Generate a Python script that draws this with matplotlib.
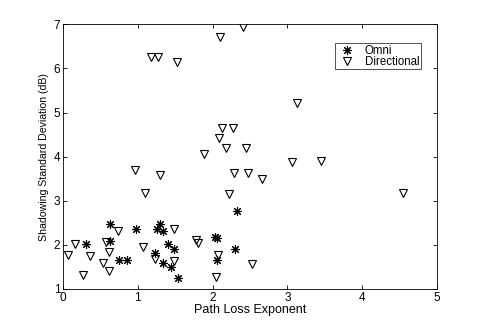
import matplotlib
matplotlib.use("Agg")
import matplotlib.pyplot as plt

plt.rcParams['font.family'] = ['Liberation Sans', 'DejaVu Sans']

omni_x = [0.31, 0.63, 0.63, 0.75, 0.85, 0.98, 1.25, 1.29, 1.33, 1.23, 1.40, 1.49,
          1.34, 1.44, 1.54, 2.03, 2.06, 2.06, 2.32, 2.30]
omni_y = [2.01, 2.47, 2.09, 1.66, 1.66, 2.35, 2.35, 2.47, 2.31, 1.82, 2.01, 1.90,
          1.59, 1.50, 1.24, 2.17, 2.15, 1.65, 2.77, 1.90]

dir_x = [0.96, 1.30, 1.09, 2.28, 2.47, 2.22, 0.73, 1.48, 0.16, 0.06, 0.36, 0.58,
         0.62, 0.54, 0.62, 0.27, 1.07, 1.23, 1.49, 1.78, 1.81, 2.07, 2.05, 2.53,
         2.40, 2.10, 1.17, 1.27, 1.53, 2.12, 2.27, 2.08, 2.18, 2.44, 1.89, 3.13,
         3.06, 3.45, 4.55, 2.66]
dir_y = [3.70, 3.58, 3.18, 3.64, 3.64, 3.15, 2.32, 2.35, 2.01, 1.78, 1.75, 2.06,
         1.84, 1.58, 1.41, 1.31, 1.94, 1.69, 1.64, 2.10, 2.04, 1.78, 1.26, 1.56,
         6.95, 6.72, 6.27, 6.27, 6.15, 4.64, 4.64, 4.42, 4.19, 4.19, 4.06, 5.21,
         3.88, 3.91, 3.18, 3.49]

fig = plt.figure(figsize=(4.85, 3.25), dpi=100)
ax = fig.add_axes([0.130, 0.111, 0.771, 0.814])

ax.plot(omni_x, omni_y, linestyle='none', marker=(8, 2, 0), markersize=6.5,
        color='black', markeredgewidth=0.8, label='Omni')
ax.plot(dir_x, dir_y, linestyle='none', marker='v', markersize=6.3,
        markerfacecolor='none', markeredgecolor='black', markeredgewidth=0.8,
        label='Directional')

ax.set_xlim(0, 5)
ax.set_ylim(1, 7)
ax.set_xticks([0, 1, 2, 3, 4, 5])
ax.set_yticks([1, 2, 3, 4, 5, 6, 7])
ax.tick_params(direction='in', top=True, right=True, labelsize=8.5, length=3,
               width=0.6, pad=2)
for s in ax.spines.values():
    s.set_linewidth(0.6)
ax.set_xlabel('Path Loss Exponent', fontsize=9, labelpad=0.5)
ax.set_ylabel('Shadowing Standard Deviation (dB)', fontsize=7.6, labelpad=3)

leg = ax.legend(loc='upper right', bbox_to_anchor=(0.956, 0.928), fontsize=8.3,
                frameon=True, fancybox=False, borderpad=0.1, labelspacing=-0.05,
                handletextpad=0.5, handlelength=2.0, borderaxespad=0,
                markerscale=1.0)
leg.get_frame().set_edgecolor('black')
leg.get_frame().set_linewidth(0.6)

fig.savefig('out.png', dpi=100)
